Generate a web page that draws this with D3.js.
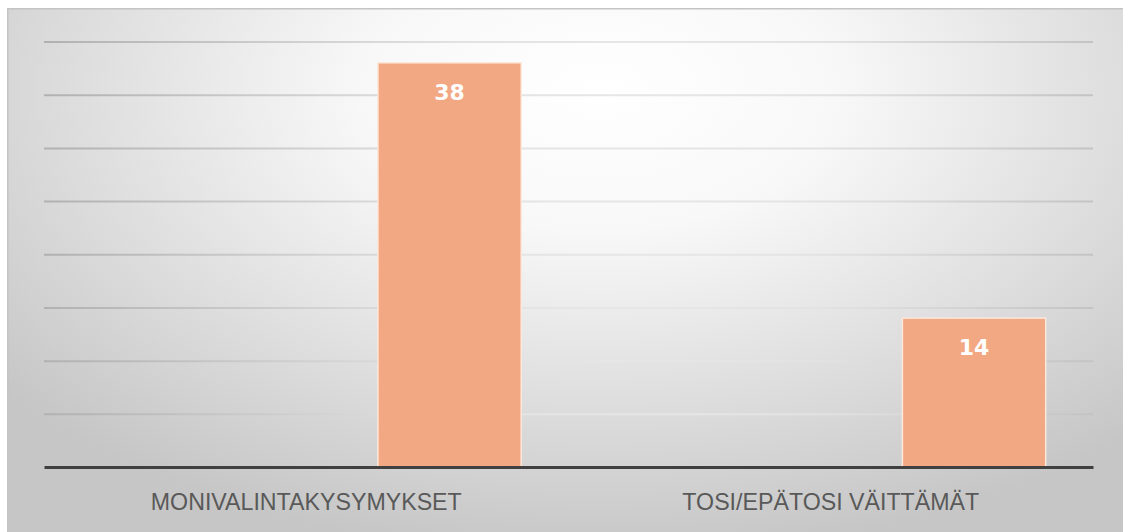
<!DOCTYPE html>
<html>
<head>
<meta charset="utf-8">
<script src="https://cdn.jsdelivr.net/npm/d3@7"></script>
<style>
  html, body { margin: 0; padding: 0; background: #fff; }
  svg { display: block; }
</style>
</head>
<body>
<svg id="chart"></svg>
<script>
// data
const categories = ["MONIVALINTAKYSYMYKSET", "TOSI/EPÄTOSI VÄITTÄMÄT"];
const values = [38, 14];
const yTicks = [0, 5, 10, 15, 20, 25, 30, 35, 40];
// the bar sits in the last of three slots per category (other series empty)
const slotCount = 3, slotIndex = 2;

const W = 1123, H = 532;
const frame = {left: 7, top: 8};
const plot = {left: 44, right: 1093, top: 41.5, bottom: 467};

const svg = d3.select("#chart").attr("width", W).attr("height", H);
const defs = svg.append("defs");

function radial(id, stops) {
  const g = defs.append("radialGradient").attr("id", id)
    .attr("gradientUnits", "userSpaceOnUse")
    .attr("cx", 600).attr("cy", 90).attr("r", 780)
    .attr("gradientTransform", "translate(600,90) scale(1,0.6) translate(-600,-90)");
  stops.forEach(([o, c]) => g.append("stop").attr("offset", o).attr("stop-color", c));
}
radial("bg", [[0, "#ffffff"], [0.3, "#f8f8f8"], [1, "#c6c6c6"]]);
radial("gridg", [[0, "#ededed"], [0.3, "#e2e2e2"], [1, "#9c9c9c"]]);

svg.append("rect")
  .attr("x", frame.left).attr("y", frame.top)
  .attr("width", W - frame.left).attr("height", H - frame.top)
  .attr("fill", "url(#bg)");

// thin frame edge at top and left
svg.append("path")
  .attr("d", `M${frame.left + 0.75},${H} V${frame.top + 0.75} H${W}`)
  .attr("fill", "none").attr("stroke", "#c4c4c4").attr("stroke-width", 1.5);

const x = d3.scaleBand().domain(categories).range([plot.left, plot.right]).padding(0);
const slot = d3.scaleBand().domain(d3.range(slotCount))
  .range([0, x.bandwidth()]).paddingInner(0).paddingOuter(0.33);
const y = d3.scaleLinear().domain([0, 40]).range([plot.bottom, plot.top]);

// gridlines
svg.append("g")
  .attr("transform", `translate(${plot.left},0)`)
  .call(d3.axisLeft(y).tickValues(yTicks.filter(t => t > 0))
    .tickSize(-(plot.right - plot.left)).tickFormat(""))
  .call(g => g.select(".domain").remove())
  .call(g => g.selectAll(".tick line")
    .attr("stroke", "url(#gridg)").attr("stroke-width", 2));

// bars
const bars = svg.append("g").selectAll("g")
  .data(categories.map((c, i) => ({c, v: values[i]})))
  .join("g");

bars.append("rect")
  .attr("x", d => x(d.c) + slot(slotIndex))
  .attr("y", d => y(d.v))
  .attr("width", slot.bandwidth())
  .attr("height", d => y(0) - y(d.v))
  .attr("fill", "#f2a882")
  .attr("stroke", "#fde8dc").attr("stroke-width", 1.5);

bars.append("text")
  .attr("x", d => x(d.c) + slot(slotIndex) + slot.bandwidth() / 2)
  .attr("y", d => y(d.v) + 37)
  .attr("text-anchor", "middle")
  .attr("font-family", "DejaVu Sans, sans-serif")
  .attr("font-weight", "bold")
  .attr("font-size", 22)
  .attr("fill", "#ffffff")
  .text(d => d.v);

// x axis baseline and category labels
const xAxis = svg.append("g")
  .attr("transform", `translate(0,${y(0)})`)
  .call(d3.axisBottom(x).tickSize(0).tickPadding(0));
xAxis.select(".domain")
  .attr("stroke", "#404040").attr("stroke-width", 3);
xAxis.selectAll(".tick text")
  .attr("y", 43)
  .attr("dy", 0)
  .attr("font-family", "Liberation Sans, Arial, sans-serif")
  .attr("font-size", 23.2)
  .attr("fill", "#595959");
</script>
</body>
</html>
